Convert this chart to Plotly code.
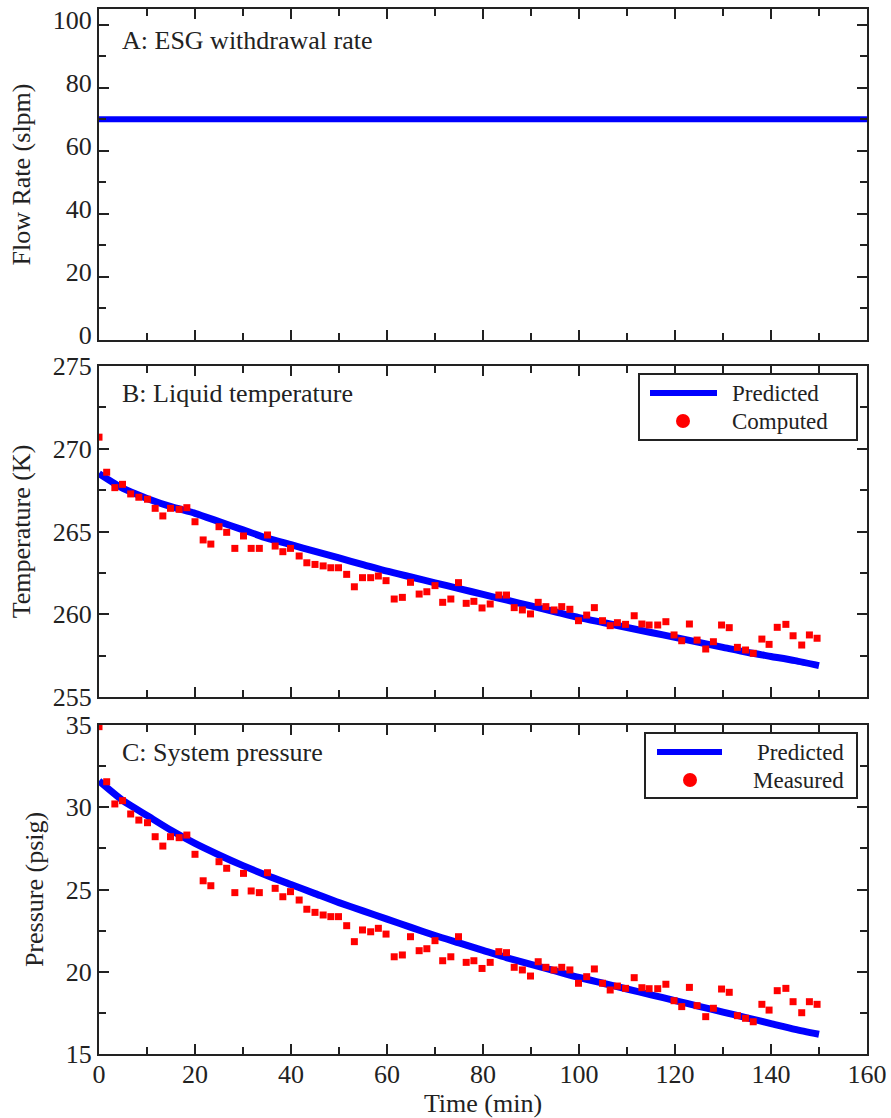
import plotly.graph_objects as go

# ---------------- data ----------------
# Panel A: ESG withdrawal rate (slpm)
flow_t = [0, 160]
flow_rate = [70, 70]

# Predicted curves (read every 5 min)
pred_t = [0, 5, 10, 15, 20, 25, 30, 35, 40, 45, 50, 55, 60, 65, 70, 75,
          80, 85, 90, 95, 100, 105, 110, 115, 120, 125, 130, 135, 140, 145, 150]
pred_temp = [268.5, 267.6, 267.0, 266.5, 266.1, 265.6, 265.1, 264.6, 264.2, 263.8,
             263.4, 263.0, 262.6, 262.25, 261.9, 261.55, 261.2, 260.85, 260.5, 260.15,
             259.8, 259.5, 259.2, 258.9, 258.6, 258.3, 258.0, 257.7, 257.45, 257.2, 256.9]
pred_pres = [31.6, 30.4, 29.5, 28.6, 27.8, 27.1, 26.45, 25.85, 25.3, 24.75,
             24.2, 23.7, 23.2, 22.7, 22.2, 21.75, 21.3, 20.85, 20.45, 20.05,
             19.65, 19.3, 18.95, 18.6, 18.25, 17.9, 17.55, 17.2, 16.85, 16.5, 16.2]

# Computed / measured points
meas_t = [0, 1.6, 3.3, 4.9, 6.6, 8.3, 10.1, 11.7, 13.3, 14.9, 16.7, 18.3, 20.0, 21.7,
          23.3, 25.0, 26.6, 28.3, 30.1, 31.7, 33.4, 35.1, 36.7, 38.3, 39.9, 41.7, 43.3,
          45.0, 46.7, 48.3, 49.9, 51.6, 53.2, 54.9, 56.6, 58.2, 59.8, 61.5, 63.2, 64.9,
          66.7, 68.3, 70.0, 71.6, 73.3, 74.9, 76.5, 78.1, 79.8, 81.5, 83.3, 84.9, 86.5,
          88.2, 89.9, 91.5, 93.1, 94.8, 96.4, 98.1, 99.9, 101.6, 103.2, 104.9, 106.5,
          108.0, 109.7, 111.5, 113.1, 114.6, 116.4, 118.1, 119.8, 121.4, 123.0, 124.6,
          126.4, 128.0, 129.7, 131.3, 133.0, 134.7, 136.3, 138.1, 139.6, 141.3, 143.1,
          144.6, 146.4, 148.0, 149.6]
comp_temp = [270.7, 268.58, 267.65, 267.85, 267.27, 267.07, 266.95, 266.4, 265.94, 266.4,
             266.34, 266.44, 265.59, 264.49, 264.24, 265.29, 264.95, 263.98, 264.73, 263.98,
             263.98, 264.79, 264.12, 263.78, 263.98, 263.52, 263.11, 263.01, 262.92, 262.81,
             262.81, 262.41, 261.66, 262.21, 262.21, 262.31, 262.03, 260.92, 261.02, 261.93,
             261.22, 261.36, 261.73, 260.72, 260.92, 261.91, 260.66, 260.78, 260.38, 260.62,
             261.16, 261.16, 260.40, 260.26, 260.02, 260.72, 260.46, 260.26, 260.46, 260.30,
             259.61, 259.95, 260.40, 259.61, 259.31, 259.49, 259.39, 259.91, 259.41, 259.35,
             259.35, 259.55, 258.75, 258.40, 259.41, 258.44, 257.90, 258.34, 259.35, 259.19,
             258.0, 257.84, 257.64, 258.50, 258.18, 259.21, 259.39, 258.70, 258.14, 258.75,
             258.55]
meas_pres = [34.9, 31.55, 30.20, 30.40, 29.59, 29.22, 29.06, 28.21, 27.64, 28.21,
             28.15, 28.31, 27.14, 25.53, 25.23, 26.69, 26.29, 24.81, 25.98, 24.91,
             24.81, 26.02, 25.07, 24.56, 24.87, 24.36, 23.80, 23.61, 23.45, 23.35,
             23.35, 22.80, 21.83, 22.54, 22.43, 22.64, 22.29, 20.91, 21.02, 22.13,
             21.28, 21.40, 21.89, 20.67, 20.91, 22.13, 20.57, 20.67, 20.20, 20.57,
             21.22, 21.16, 20.27, 20.11, 19.74, 20.61, 20.27, 20.11, 20.27, 20.11,
             19.30, 19.70, 20.17, 19.30, 18.89, 19.13, 18.99, 19.64, 19.03, 18.97,
             18.97, 19.24, 18.24, 17.88, 19.05, 17.94, 17.27, 17.78, 18.95, 18.75,
             17.33, 17.17, 16.96, 18.02, 17.67, 18.85, 18.99, 18.18, 17.51, 18.18,
             18.02]

x_ticks = [0, 20, 40, 60, 80, 100, 120, 140, 160]
panel_titles = ["A: ESG withdrawal rate", "B: Liquid temperature", "C: System pressure"]
legend_b = ["Predicted", "Computed"]
legend_c = ["Predicted", "Measured"]

# ---------------- figure ----------------
FONT = "Liberation Serif, Times New Roman, serif"
INK = "#222222"
BLUE = "#0000ff"
RED = "#ff0000"
FS = 26
FS_LEG = 23

fig = go.Figure()

fig.add_trace(go.Scatter(x=flow_t, y=flow_rate, mode="lines", name="Flow rate",
                         line=dict(color=BLUE, width=6), showlegend=False,
                         xaxis="x", yaxis="y"))

# Panel B
fig.add_trace(go.Scatter(x=pred_t, y=pred_temp, mode="lines", name=legend_b[0],
                         line=dict(color=BLUE, width=7, shape="spline", smoothing=0.6),
                         showlegend=False, xaxis="x2", yaxis="y2"))
fig.add_trace(go.Scatter(x=meas_t, y=comp_temp, mode="markers", name=legend_b[1],
                         marker=dict(symbol="square", size=7, color=RED),
                         showlegend=False, xaxis="x2", yaxis="y2"))

# Panel C
fig.add_trace(go.Scatter(x=pred_t, y=pred_pres, mode="lines", name=legend_c[0],
                         line=dict(color=BLUE, width=7, shape="spline", smoothing=0.6),
                         showlegend=False, xaxis="x3", yaxis="y3"))
fig.add_trace(go.Scatter(x=meas_t, y=meas_pres, mode="markers", name=legend_c[1],
                         marker=dict(symbol="square", size=7, color=RED),
                         showlegend=False, xaxis="x3", yaxis="y3"))

TOTAL_H = 1045.0
PLOT_W = 768.0
def px_x(p):
    return (p - 99) / PLOT_W
def px_y(p):
    return (1054 - p) / TOTAL_H
def dom(top_px, bot_px):
    return [px_y(bot_px), px_y(top_px)]

common_axis = dict(showline=True, linewidth=2, linecolor=INK, mirror="allticks",
                   ticks="inside", ticklen=10, tickwidth=2, tickcolor=INK,
                   showgrid=False, zeroline=False, automargin=False,
                   tickfont=dict(family=FONT, size=FS, color=INK))

xcommon = dict(common_axis, range=[0, 160], tickvals=x_ticks,
               minor=dict(dtick=10, ticks="inside", ticklen=7, tickwidth=2, tickcolor=INK))

fig.update_layout(
    width=891, height=1118,
    margin=dict(l=99, r=24, t=9, b=64, autoexpand=False),
    paper_bgcolor="white", plot_bgcolor="white",
    font=dict(family=FONT, size=FS, color=INK),
    showlegend=False,
    xaxis=dict(xcommon, anchor="y", showticklabels=False),
    xaxis2=dict(xcommon, anchor="y2", matches="x", showticklabels=False),
    xaxis3=dict(xcommon, anchor="y3", matches="x", ticklabelstandoff=-4,
                title=dict(text="Time (min)", font=dict(family=FONT, size=FS, color=INK), standoff=4)),
    yaxis=dict(common_axis, anchor="x", domain=dom(9, 340), range=[0, 105],
               tick0=0, dtick=20, ticklabelshift=-5,
               minor=dict(dtick=10, ticks="inside", ticklen=7, tickwidth=2, tickcolor=INK),
               title=dict(text="Flow Rate (slpm)", font=dict(family=FONT, size=FS, color=INK))),
    yaxis2=dict(common_axis, anchor="x2", domain=dom(366, 697), range=[255, 275],
                tick0=255, dtick=5,
                minor=dict(dtick=2.5, ticks="inside", ticklen=7, tickwidth=2, tickcolor=INK),
                title=dict(text="Temperature (K)", font=dict(family=FONT, size=FS, color=INK))),
    yaxis3=dict(common_axis, anchor="x3", domain=dom(725, 1054), range=[15, 35],
                tick0=15, dtick=5,
                minor=dict(dtick=2.5, ticks="inside", ticklen=7, tickwidth=2, tickcolor=INK),
                title=dict(text="Pressure (psig)", font=dict(family=FONT, size=FS, color=INK))),
)

ann_y = [40, 393, 752]
for txt, ypx in zip(panel_titles, ann_y):
    fig.add_annotation(text=txt, xref="paper", yref="paper",
                       x=px_x(120), y=px_y(ypx),
                       xanchor="left", yanchor="middle", showarrow=False,
                       font=dict(family=FONT, size=FS, color=INK))

# Legend boxes (drawn in paper coordinates)
def draw_legend(box, line_seg, dot, labels, text_x, anchor):
    l, r, t, b = box
    fig.add_shape(type="rect", xref="paper", yref="paper",
                  x0=px_x(l), x1=px_x(r), y0=px_y(b), y1=px_y(t),
                  line=dict(color=INK, width=2), fillcolor="white", layer="above")
    x0, x1, yl = line_seg
    fig.add_shape(type="line", xref="paper", yref="paper",
                  x0=px_x(x0), x1=px_x(x1), y0=px_y(yl), y1=px_y(yl),
                  line=dict(color=BLUE, width=6), layer="above")
    cx, cy, rad = dot
    fig.add_shape(type="circle", xref="paper", yref="paper",
                  x0=px_x(cx - rad), x1=px_x(cx + rad), y0=px_y(cy + rad), y1=px_y(cy - rad),
                  line=dict(color=RED, width=0), fillcolor=RED, layer="above")
    for lab, tx, ty in zip(labels, text_x, [yl, cy]):
        fig.add_annotation(text=lab, xref="paper", yref="paper",
                           x=px_x(tx), y=px_y(ty), xanchor=anchor, yanchor="middle",
                           showarrow=False, borderpad=0,
                           font=dict(family=FONT, size=FS_LEG, color=INK))

draw_legend((639, 857, 374, 440), (650, 717, 393), (683, 421, 7), legend_b, (731, 731), "left")
draw_legend((645, 857, 733, 798), (657, 722, 752), (690, 780, 7), legend_c, (845, 845), "right")

fig.write_html("out.html")
